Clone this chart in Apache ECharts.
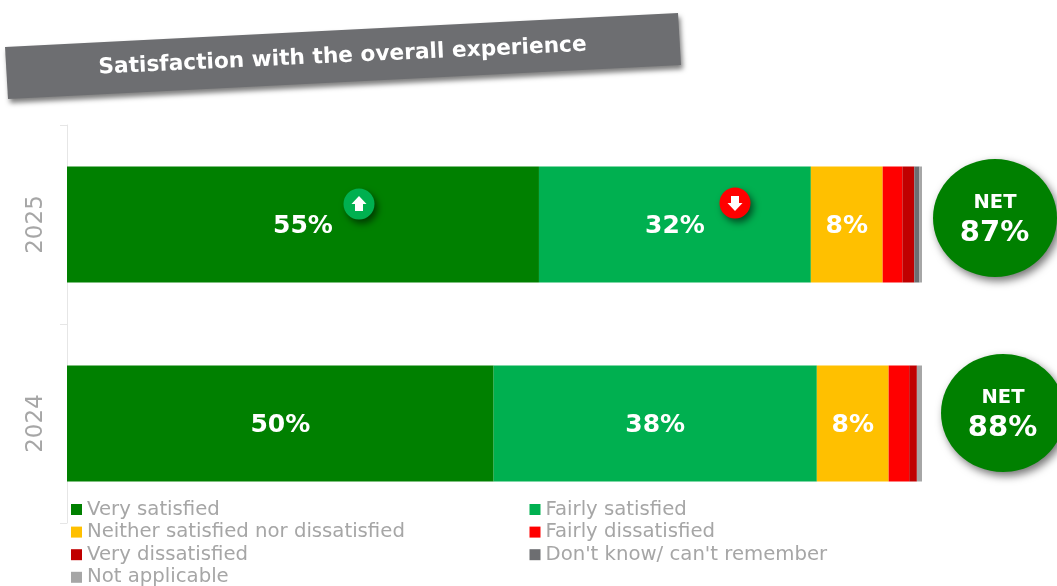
<!DOCTYPE html>
<html><head><meta charset="utf-8">
<style>html,body{margin:0;padding:0;background:#fff}#c{width:1057px;height:586px}</style>
<script src="https://cdn.jsdelivr.net/npm/echarts@6/dist/echarts.min.js"></script>
</head><body><div id="c"></div>
<script>
const categories = ['2025','2024'];
const verySatisfied = [55.2, 49.9];
const fairlySatisfied = [31.8, 37.8];
const neither = [8.4, 8.4];
const fairlyDissatisfied = [2.3, 2.4];
const veryDissatisfied = [1.4, 0.9];
const dontKnow = [0.6, 0];
const notApplicable = [0.3, 0.6];
const netValues = ['87%','88%'];
const titleText = 'Satisfaction with the overall experience';
const names = ['Very satisfied','Fairly satisfied','Neither satisfied nor dissatisfied','Fairly dissatisfied','Very dissatisfied',"Don't know/ can't remember",'Not applicable'];
const colors = ['#008000','#00B050','#FFC000','#FF0000','#C00000','#6D6E71','#A6A6A6'];
const values = [verySatisfied,fairlySatisfied,neither,fairlyDissatisfied,veryDissatisfied,dontKnow,notApplicable];
const FONT = '"DejaVu Sans", Verdana, sans-serif';

const series = names.map((n,i)=>({
  name:n,type:'bar',stack:'t',barWidth:116,data:values[i],
  itemStyle:{color:colors[i]},
  label:{show:i<3,position:'inside',offset:[0,2],color:'#fff',fontFamily:FONT,fontWeight:'bold',fontSize:25,
    formatter:p=>Math.round(p.value)+'%'}
}));

const legendBase = {orient:'vertical',itemWidth:11,itemHeight:11,itemGap:2.6,padding:0,icon:'rect',height:200,
  itemStyle:{borderWidth:0},
  textStyle:{color:'#A6A6A6',fontFamily:FONT,fontSize:19.7,lineHeight:18}};

function net(cx,cy,rx,ry,val){
  return [
    {type:'ellipse',shape:{cx,cy,rx,ry},style:{fill:'#008000',shadowBlur:8,shadowOffsetX:3,shadowOffsetY:4,shadowColor:'rgba(0,0,0,0.55)'},z:10},
    {type:'text',x:cx,y:cy-15,style:{text:'NET',fill:'#fff',font:'bold 19.5px '+FONT,align:'center',verticalAlign:'middle'},z:11},
    {type:'text',x:cx-0.5,y:cy+15,style:{text:val,fill:'#fff',font:'bold 29px '+FONT,align:'center',verticalAlign:'middle'},z:11}
  ];
}
function badge(cx,cy,fill,dir){
  const d=dir;
  return [
    {type:'circle',shape:{cx,cy,r:15.5},style:{fill,shadowBlur:7,shadowOffsetX:3,shadowOffsetY:4,shadowColor:'rgba(0,0,0,0.55)'},z:10},
    {type:'polygon',shape:{points:[[cx,cy-8*d],[cx+7.5,cy],[cx+4,cy],[cx+4,cy+7*d],[cx-4,cy+7*d],[cx-4,cy],[cx-7.5,cy]]},style:{fill:'#fff'},z:11}
  ];
}

const chart = echarts.init(document.getElementById('c'),null,{renderer:'canvas'});
chart.setOption({
  animation:false,
  backgroundColor:'#fff',
  grid:{left:67,right:135,top:125,bottom:63,containLabel:false},
  xAxis:{type:'value',min:0,max:100,show:false},
  yAxis:{type:'category',inverse:true,data:categories,
    axisLine:{show:true,lineStyle:{color:'#E6E6E6',width:1}},
    axisTick:{show:true,length:7,lineStyle:{color:'#E6E6E6',width:1}},
    axisLabel:{rotate:90,color:'#A6A6A6',fontFamily:FONT,fontSize:23,margin:19}},
  legend:[
    Object.assign({left:71,top:499.5,data:[names[0],names[2],names[4],names[6]]},legendBase),
    Object.assign({left:529.5,top:499.5,data:[names[1],names[3],names[5]]},legendBase)
  ],
  series,
  graphic:{elements:[
    {type:'polygon',shape:{points:[[5,47],[678,13],[681,65],[8,99]]},
     style:{fill:'#6D6E71',shadowBlur:5,shadowOffsetX:2,shadowOffsetY:4,shadowColor:'rgba(0,0,0,0.5)'},z:10},
    {type:'text',x:342.5,y:56.5,rotation:0.047,
     style:{text:titleText,fill:'#fff',font:'bold 21.7px '+FONT,align:'center',verticalAlign:'middle'},z:11},
    ...net(995,218,62,59,netValues[0]),
    ...net(1003,413,62,59,netValues[1]),
    ...badge(359,204,'#00B050',1),
    ...badge(735,203,'#FF0000',-1)
  ]}
});
</script></body></html>
